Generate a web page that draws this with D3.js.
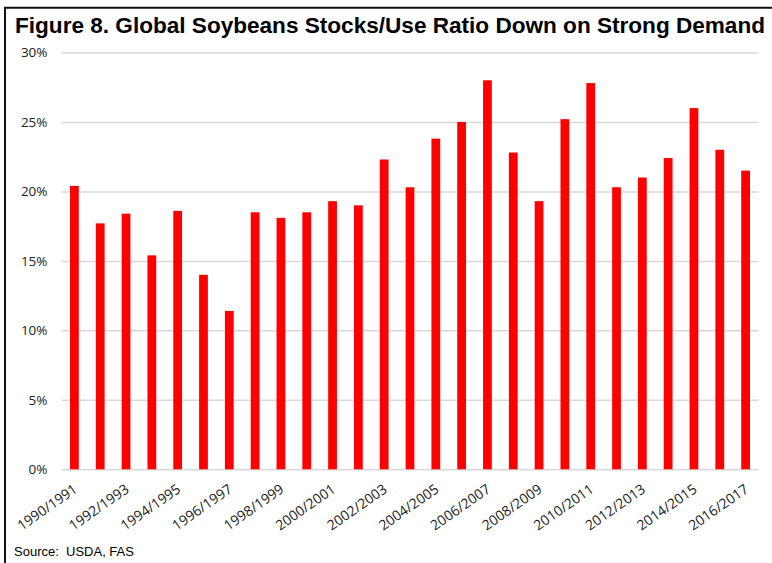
<!DOCTYPE html>
<html>
<head>
<meta charset="utf-8">
<script src="https://cdn.jsdelivr.net/npm/d3@7"></script>
<style>
  html, body { margin: 0; padding: 0; background: #fff; }
  svg { display: block; }
</style>
</head>
<body>
<svg id="chart" width="772" height="563"></svg>
<script>
// Marketing years and global soybean stocks-to-use ratio (%)
const seasons = [
  "1990/1991", "1991/1992", "1992/1993", "1993/1994", "1994/1995", "1995/1996",
  "1996/1997", "1997/1998", "1998/1999", "1999/2000", "2000/2001", "2001/2002",
  "2002/2003", "2003/2004", "2004/2005", "2005/2006", "2006/2007", "2007/2008",
  "2008/2009", "2009/2010", "2010/2011", "2011/2012", "2012/2013", "2013/2014",
  "2014/2015", "2015/2016", "2016/2017"
];
const stocksToUse = [
  20.4, 17.7, 18.4, 15.4, 18.6, 14.0,
  11.4, 18.5, 18.1, 18.5, 19.3, 19.0,
  22.3, 20.3, 23.8, 25.0, 28.0, 22.8,
  19.3, 25.2, 27.8, 20.3, 21.0, 22.4,
  26.0, 23.0, 21.5
];
const yTicks = [0, 5, 10, 15, 20, 25, 30];
// Only every other season is labelled on the axis
const labelledSeasons = seasons.filter((d, i) => i % 2 === 0);

const svg = d3.select("#chart");
const W = 772, H = 563;

// Frame lines along the top and left edge
svg.append("path")
  .attr("d", `M5,${H} L5,7.8 L${W},7.8`)
  .attr("fill", "none")
  .attr("stroke", "#111")
  .attr("stroke-width", 2);

// Title
svg.append("text")
  .attr("x", 15)
  .attr("y", 33)
  .attr("font-family", "'Liberation Sans', Arial, sans-serif")
  .attr("font-weight", "bold")
  .attr("font-size", 22)
  .attr("textLength", 750)
  .attr("lengthAdjust", "spacingAndGlyphs")
  .attr("fill", "#000")
  .text("Figure 8. Global Soybeans Stocks/Use Ratio Down on Strong Demand");

const plot = { left: 61.5, right: 758.5, top: 52.5, bottom: 469.3 };

const x = d3.scaleBand()
  .domain(seasons)
  .range([plot.left, plot.right])
  .paddingInner(0.66)
  .paddingOuter(0.33);

const y = d3.scaleLinear()
  .domain([0, 30])
  .range([plot.bottom, plot.top]);

// Horizontal gridlines with percentage labels
const yAxis = d3.axisLeft(y)
  .tickValues(yTicks)
  .tickFormat(d => d + "%")
  .tickSize(-(plot.right - plot.left))
  .tickPadding(14);

const gy = svg.append("g")
  .attr("transform", `translate(${plot.left},0)`)
  .call(yAxis);
gy.select(".domain").remove();
gy.selectAll(".tick line")
  .attr("stroke", "#d9d9d9")
  .attr("stroke-width", 1.5);
gy.selectAll(".tick text")
  .attr("font-family", "'Open Sans', sans-serif")
  .attr("font-size", 13.5)
  .attr("fill", "#222");

// Bars
svg.append("g")
  .selectAll("rect")
  .data(stocksToUse)
  .join("rect")
  .attr("x", (d, i) => x(seasons[i]))
  .attr("width", x.bandwidth())
  .attr("y", d => y(d))
  .attr("height", d => y(0) - y(d))
  .attr("fill", "#ff0000");

// Season labels, rotated
const xAxis = d3.axisBottom(x)
  .tickValues(labelledSeasons)
  .tickSize(0)
  .tickPadding(0);

const gx = svg.append("g")
  .attr("transform", `translate(0,${plot.bottom})`)
  .call(xAxis);
gx.select(".domain").remove();
gx.selectAll(".tick text")
  .attr("font-family", "'Open Sans', sans-serif")
  .attr("font-size", 14)
  .attr("fill", "#222")
  .attr("text-anchor", "end")
  .attr("dy", 0)
  .attr("transform", "translate(4,22) rotate(-35)");

// Source note
svg.append("text")
  .attr("x", 14)
  .attr("y", 556)
  .attr("font-family", "'Liberation Sans', Arial, sans-serif")
  .attr("font-size", 13)
  .attr("fill", "#000")
  .attr("xml:space", "preserve")
  .text("Source:  USDA, FAS");
</script>
</body>
</html>
